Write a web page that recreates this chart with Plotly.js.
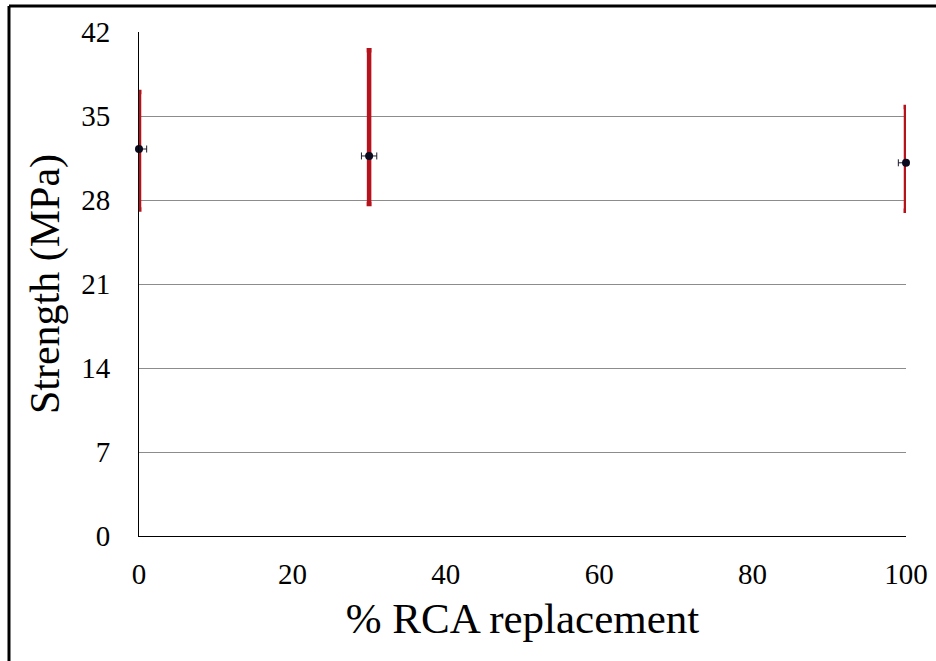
<!DOCTYPE html>
<html>
<head>
<meta charset="utf-8">
<script src="https://cdn.plot.ly/plotly-3.0.1.min.js"></script>
<style>html,body{margin:0;padding:0;background:#fff;}#chart{width:936px;height:661px;}</style>
</head>
<body>
<div id="chart"></div>
<script>
// Data
const rcaPercent = [0, 30, 100];
const strength = [32.25, 31.67, 31.1];
const strengthErrPlus = [4.75, 8.8, 4.65];
const strengthErrMinus = [5.05, 4.0, 4.0];
const rcaErrPlus = [1, 1, 0];
const rcaErrMinus = [0, 1, 1];
const yTicks = [0, 7, 14, 21, 28, 35, 42];
const xTicks = [0, 20, 40, 60, 80, 100];

const font = "Times New Roman, Liberation Serif, DejaVu Serif, serif";

const trace = {
  x: rcaPercent,
  y: strength,
  type: 'scatter',
  mode: 'markers',
  cliponaxis: false,
  marker: {size: 8, color: '#0a0a1e'},
  error_y: {
    type: 'data', symmetric: false,
    array: strengthErrPlus, arrayminus: strengthErrMinus,
    color: '#b5121b', thickness: 4.5, width: 2.5
  },
  error_x: {
    type: 'data', symmetric: false,
    array: rcaErrPlus, arrayminus: rcaErrMinus,
    color: '#1a1a2e', thickness: 1, width: 3.5
  },
  hoverinfo: 'x+y'
};

const layout = {
  width: 936, height: 661,
  margin: {l: 139, r: 30, t: 32, b: 125},
  paper_bgcolor: '#ffffff', plot_bgcolor: '#ffffff',
  showlegend: false,
  font: {family: font, color: '#000'},
  xaxis: {
    range: [0, 100], tickvals: xTicks, ticktext: xTicks.map(String),
    showgrid: false, zeroline: false,
    showline: true, linecolor: '#000', linewidth: 1,
    ticks: '', ticklabelstandoff: 12,
    tickfont: {family: font, size: 29, color: '#000'},
    title: {text: '% RCA replacement', font: {family: font, size: 43, color: '#000'}, standoff: 14}
  },
  yaxis: {
    range: [0, 42], tickvals: yTicks, ticktext: yTicks.map(String),
    showgrid: true, gridcolor: '#8c8c8c', gridwidth: 1,
    zeroline: false,
    showline: true, linecolor: '#000', linewidth: 1,
    ticks: '', ticklabelstandoff: 22,
    automargin: true,
    tickfont: {family: font, size: 29, color: '#000'},
    title: {text: 'Strength (MPa)', font: {family: font, size: 42, color: '#000'}, standoff: 8}
  },
  shapes: [
    {type: 'line', xref: 'paper', yref: 'paper', x0: -0.1695, x1: 1.05, y0: 1.0516, y1: 1.0516,
     line: {color: '#000', width: 3}},
    {type: 'line', xref: 'paper', yref: 'paper', x0: -0.1695, x1: -0.1695, y0: 1.0516, y1: -0.26,
     line: {color: '#000', width: 3}}
  ]
};

Plotly.newPlot('chart', [trace], layout, {displayModeBar: false, staticPlot: true});
</script>
</body>
</html>
